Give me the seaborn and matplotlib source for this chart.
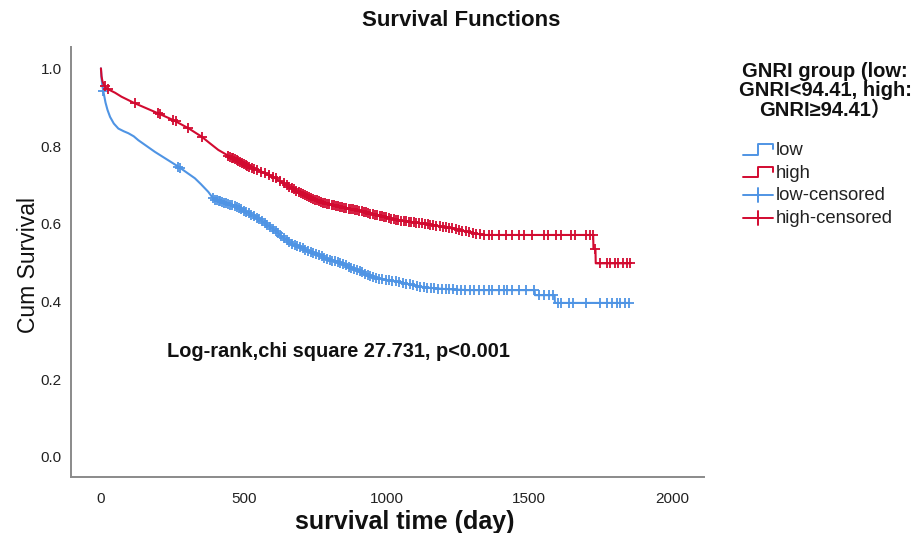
import numpy as np
import pandas as pd
import matplotlib
matplotlib.use("Agg")
import matplotlib.pyplot as plt
import seaborn as sns
from matplotlib.lines import Line2D
from matplotlib.legend_handler import HandlerBase

sns.set_theme(style="white")
plt.rcParams["font.family"] = ["Liberation Sans", "DejaVu Sans", "Noto Sans CJK SC"]

# ---------------- data ----------------
groups = ["low", "high"]
colors = {"low": "#4F94E4", "high": "#D20A30"}

# Kaplan-Meier curve vertices (time in days, cumulative survival)
low_time = [0, 2, 5, 10, 16, 23, 32, 45, 61, 80, 96, 115, 131, 160, 189, 230, 271, 300,
            329, 350, 376, 390, 399, 430, 469, 516, 557, 604, 640, 672, 720, 760, 791,
            837, 880, 907, 931, 960, 988, 1047, 1106, 1150, 1200, 1281, 1519, 1520, 1589,
            1590, 1848]
low_surv = [1.0, 0.975, 0.955, 0.935, 0.912, 0.893, 0.875, 0.858, 0.845, 0.838, 0.833,
            0.825, 0.815, 0.800, 0.785, 0.766, 0.747, 0.732, 0.717, 0.702, 0.682, 0.668,
            0.662, 0.655, 0.645, 0.628, 0.610, 0.586, 0.563, 0.547, 0.532, 0.520, 0.510,
            0.499, 0.486, 0.477, 0.470, 0.462, 0.456, 0.450, 0.439, 0.435, 0.432, 0.429,
            0.429, 0.416, 0.416, 0.396, 0.396]

high_time = [0, 2, 5, 10, 17, 26, 50, 72, 119, 160, 201, 253, 306, 353, 380, 411, 458,
             487, 516, 560, 604, 660, 720, 779, 840, 896, 950, 1012, 1047, 1106, 1160,
             1222, 1280, 1338, 1724, 1725, 1732, 1733, 1854]
high_surv = [1.0, 0.980, 0.968, 0.958, 0.950, 0.946, 0.937, 0.927, 0.910, 0.897, 0.884,
             0.867, 0.846, 0.824, 0.808, 0.790, 0.770, 0.760, 0.747, 0.735, 0.720, 0.695,
             0.671, 0.654, 0.643, 0.635, 0.625, 0.614, 0.608, 0.603, 0.597, 0.589, 0.580,
             0.571, 0.571, 0.535, 0.535, 0.498, 0.498]

low_censored = [8, 271, 278, 392, 399, 405, 412, 418, 425, 432, 438, 445, 452, 460, 468,
                476, 484, 492, 500, 509, 518, 527, 536, 545, 555, 564, 574, 583, 593, 602,
                612, 621, 631, 640, 650, 659, 668, 678, 687, 697, 706, 716, 725, 735, 744,
                754, 763, 773, 782, 792, 801, 811, 820, 830, 839, 849, 858, 868, 877, 887,
                896, 906, 915, 925, 934, 944, 953, 963, 975, 986, 998, 1010, 1021, 1033,
                1045, 1057, 1069, 1081, 1093, 1106, 1118, 1130, 1143, 1155, 1168, 1181,
                1194, 1207, 1220, 1233, 1246, 1260, 1275, 1293, 1305, 1323, 1341, 1358,
                1370, 1394, 1411, 1423, 1441, 1464, 1488, 1517, 1535, 1553, 1570, 1582,
                1600, 1612, 1641, 1653, 1700, 1748, 1771, 1789, 1807, 1818, 1836, 1848]
high_censored = [13, 26, 119, 201, 208, 253, 262, 306, 353, 446, 452, 458, 463, 470, 476,
                 481, 488, 494, 500, 507, 513, 520, 528, 535, 548, 562, 575, 590, 603, 612,
                 626, 640, 652, 660, 668, 676, 684, 692, 700, 707, 714, 722, 729, 736, 744,
                 751, 758, 765, 772, 779, 786, 793, 800, 808, 815, 822, 830, 837, 845, 852,
                 860, 868, 875, 883, 890, 898, 905, 913, 921, 928, 936, 944, 952, 960, 968,
                 976, 984, 992, 1000, 1008, 1017, 1025, 1034, 1042, 1051, 1060, 1069, 1078,
                 1087, 1096, 1105, 1115, 1124, 1134, 1144, 1154, 1164, 1175, 1186, 1197,
                 1208, 1219, 1230, 1242, 1254, 1266, 1278, 1290, 1302, 1315, 1328, 1340,
                 1358, 1370, 1394, 1417, 1441, 1464, 1482, 1511, 1553, 1565, 1594, 1612,
                 1647, 1659, 1700, 1712, 1722, 1729, 1748, 1771, 1783, 1801, 1812, 1830,
                 1842, 1854]

x_ticks = [0, 500, 1000, 1500, 2000]
y_ticks = [0.0, 0.2, 0.4, 0.6, 0.8, 1.0]

curves = {"low": (low_time, low_surv, low_censored),
          "high": (high_time, high_surv, high_censored)}

# ---------------- build tables ----------------
line_rows, cens_rows = [], []
for g in groups:
    t, s, c = curves[g]
    for a, b in zip(t, s):
        line_rows.append({"time": a, "surv": b, "group": g})
    cy = np.interp(c, t, s)  # position of the censor mark on the drawn curve
    for a, b in zip(c, cy):
        cens_rows.append({"time": a, "surv": b, "group": g})
line_df = pd.DataFrame(line_rows)
cens_df = pd.DataFrame(cens_rows)

# ---------------- figure ----------------
fig = plt.figure(figsize=(9.19, 5.33), dpi=100)
ax = fig.add_axes([0.0769, 0.1056, 0.766 - 0.0769, 0.9118 - 0.1056])

for g in groups:
    sub = line_df[line_df.group == g]
    sns.lineplot(data=sub, x="time", y="surv", color=colors[g], lw=1.5,
                 estimator=None, sort=False, ax=ax, legend=False)
    subc = cens_df[cens_df.group == g]
    sns.scatterplot(data=subc, x="time", y="surv", color=colors[g], marker="+",
                    s=62, linewidth=1.3, ax=ax, legend=False, zorder=3)

ax.set_xlim(-106, 2112)
ax.set_ylim(-0.0515, 1.055)
ax.set_xticks(x_ticks)
ax.set_yticks(y_ticks)
ax.set_xticklabels([str(v) for v in x_ticks])
ax.set_yticklabels([f"{v:.1f}" for v in y_ticks])
ax.tick_params(axis="both", length=0, labelsize=11, colors="#222222")
ax.tick_params(axis="x", pad=11)
ax.tick_params(axis="y", pad=6.5)
for side in ["top", "right"]:
    ax.spines[side].set_visible(False)
for side in ["left", "bottom"]:
    ax.spines[side].set_color("#8a8a8a")
    ax.spines[side].set_linewidth(1.4)

ax.set_xlabel("survival time (day)", fontsize=18, fontweight="bold", color="#111111")
ax.xaxis.set_label_coords(0.527, -0.106)
ax.xaxis.label.set_va("center")
ax.set_ylabel("Cum Survival", fontsize=16.5, color="#111111")
ax.yaxis.set_label_coords(-0.0665, 0.493)
ax.yaxis.label.set_va("center")

ax.text(231, 0.27, "Log-rank,chi square 27.731, p<0.001", fontsize=14.4,
        fontweight="bold", color="#111111", va="center", ha="left")

fig.text(0.5015, 0.962, "Survival Functions", ha="center", va="center",
         fontsize=16, fontweight="bold", color="#111111")

# legend title
fig.text(0.898, 0.830, "GNRI group (low:\nGNRI<94.41, high:\nGNRI\u226594.41\uff09",
         ha="center", va="center", fontsize=14.5, fontweight="bold",
         color="#111111", linespacing=1.02,
         family=["Liberation Sans", "Noto Sans CJK SC", "DejaVu Sans"])


class StepHandler(HandlerBase):
    def create_artists(self, legend, orig_handle, xdescent, ydescent, width, height,
                       fontsize, trans):
        x0 = -xdescent
        y0 = -ydescent
        xs = [x0, x0 + width * 0.5, x0 + width * 0.5, x0 + width, x0 + width]
        ys = [y0 + height * 0.05, y0 + height * 0.05, y0 + height * 0.85,
              y0 + height * 0.85, y0 + height * 0.45]
        ln = Line2D(xs, ys, color=orig_handle.get_color(), lw=1.4)
        ln.set_transform(trans)
        return [ln]


class CensHandler(HandlerBase):
    def create_artists(self, legend, orig_handle, xdescent, ydescent, width, height,
                       fontsize, trans):
        x0 = -xdescent
        y0 = -ydescent
        ym = y0 + height * 0.4
        h = Line2D([x0, x0 + width], [ym, ym], color=orig_handle.get_color(), lw=1.4)
        v = Line2D([x0 + width / 2, x0 + width / 2], [ym - height * 0.55, ym + height * 0.55],
                   color=orig_handle.get_color(), lw=1.4)
        h.set_transform(trans)
        v.set_transform(trans)
        return [h, v]


class StepKey(Line2D):
    pass


class CensKey(Line2D):
    pass


handles = [StepKey([], [], color=colors["low"]), StepKey([], [], color=colors["high"]),
           CensKey([], [], color=colors["low"]), CensKey([], [], color=colors["high"])]
labels = ["low", "high", "low-censored", "high-censored"]
leg = fig.legend(handles, labels, loc="upper left", bbox_to_anchor=(0.8085, 0.7330),
                 frameon=False, fontsize=13.3, handlelength=1.6, handletextpad=0.16,
                 labelspacing=0.30, borderpad=0.0, borderaxespad=0.0,
                 handler_map={StepKey: StepHandler(), CensKey: CensHandler()})
for t in leg.get_texts():
    t.set_color("#222222")

fig.savefig("out.png", dpi=100)
